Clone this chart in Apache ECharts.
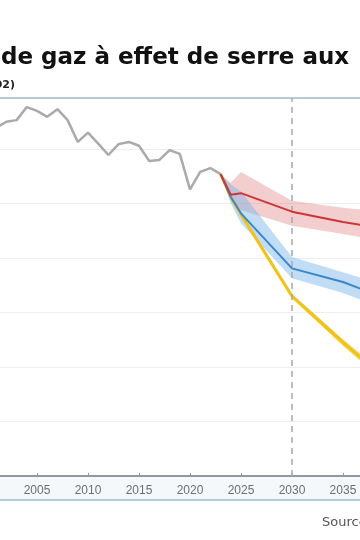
<!DOCTYPE html>
<html>
<head>
<meta charset="utf-8">
<script src="https://cdn.jsdelivr.net/npm/echarts@6/dist/echarts.min.js"></script>
<style>
html,body{margin:0;padding:0;background:#fff;}
#c{width:360px;height:540px;}
</style>
</head>
<body>
<div id="c"></div>
<script>
// ---- data (MtCO2e) ----
const histYears = [2001,2002,2003,2004,2005,2006,2007,2008,2009,2010,2011,2012,2013,2014,2015,2016,2017,2018,2019,2020,2021,2022,2023];
const histValues = [639,650,653,677,670,659,673,653,613,630,610,589,609,613,606,578,580,598,591,526,558,565,554];

const projYears = [2023,2024,2025,2030,2035,2040];
const redValues = [554,516,519,485,466,451];
const redLow    = [554,506,488,459,444,428];
const redHigh   = [554,538,558,505,492,483];

const blueValues = [554,512,482,381,356,320];
const blueLow    = [554,500,464,363,336,300];
const blueHigh   = [554,535,522,402,374,345];

const yellowYears  = [2023,2024,2025,2030,2035,2040];
const yellowValues = [554,512,480,330,245,165];
const yellowLow    = [554,512,479,326,239,158];
const yellowHigh   = [554,512,481,334,251,172];

const tickYears = [2005,2010,2015,2020,2025,2030,2035];
const markYear = 2030;

const titleText = 'de gaz à effet de serre aux';
const subtitleText = '(en MtCO2)';
const sourceText = 'Source :';

// ---- helpers ----
const pairs = (xs, ys) => xs.map((x, i) => [x, ys[i]]);

function band(name, xs, lo, hi, color, z) {
  return {
    name: name, type: 'custom', silent: true, z: z, clip: true,
    data: [[xs[0], lo[0]]],
    renderItem: function (params, api) {
      const pts = [];
      for (let i = 0; i < xs.length; i++) pts.push(api.coord([xs[i], hi[i]]));
      for (let i = xs.length - 1; i >= 0; i--) pts.push(api.coord([xs[i], lo[i]]));
      const cs = params.coordSys;
      return {
        type: 'polygon',
        shape: { points: pts },
        style: { fill: color },
        clipPath: { type: 'rect', shape: { x: cs.x, y: cs.y, width: cs.width, height: cs.height } }
      };
    }
  };
}

const chart = echarts.init(document.getElementById('c'), null, { renderer: 'canvas' });

const option = {
  animation: false,
  backgroundColor: '#ffffff',
  graphic: [
    { type: 'rect', shape: { x: 0, y: 477, width: 360, height: 23 }, style: { fill: '#f4f8fb' }, z: -1 },
    { type: 'line', shape: { x1: 0, y1: 500, x2: 360, y2: 500 }, style: { stroke: '#b3cde0', lineWidth: 2 } },
    { type: 'text', left: 1, top: 47, style: { text: titleText, font: 'bold 23px "DejaVu Sans"', fill: '#111' } },
    { type: 'text', x: 15, y: 80, style: { text: subtitleText, font: 'bold 11px "DejaVu Sans"', fill: '#222', align: 'right' } },
    { type: 'text', x: 322, y: 516, style: { text: sourceText, font: '13px "DejaVu Sans"', fill: '#555' } }
  ],
  grid: { left: 0, right: 0, top: 98, bottom: 64, outerBoundsMode: 'none', containLabel: false },
  xAxis: [
    {
      type: 'value', min: 2001.37, max: 2036.67,
      axisLine: { show: true, lineStyle: { color: '#8d9aa3', width: 2 } },
      axisTick: { show: true, inside: true, length: 3, customValues: tickYears, lineStyle: { color: '#8d9aa3' } },
      axisLabel: { show: true, customValues: tickYears, color: '#6e6e6e', fontSize: 12,
        formatter: v => String(v),
        fontFamily: '"Liberation Sans", sans-serif', margin: 9 },
      splitLine: { show: false }
    },
    {
      type: 'value', position: 'top', min: 2001.37, max: 2036.67,
      axisLine: { show: true, lineStyle: { color: '#a3bacb', width: 1.5 } },
      axisTick: { show: false }, axisLabel: { show: false }, splitLine: { show: false }
    }
  ],
  yAxis: {
    type: 'value', min: 0, max: 693.6, interval: 100,
    axisLine: { show: false }, axisTick: { show: false }, axisLabel: { show: false },
    splitLine: { show: true, lineStyle: { color: '#eeeeee', width: 1 } }
  },
  series: [
    band('yelBand', yellowYears, yellowLow, yellowHigh, 'rgba(242,196,30,0.7)', 1),
    band('redBand', projYears, redLow, redHigh, 'rgba(224,125,128,0.38)', 2),
    band('blueBand', projYears, blueLow, blueHigh, 'rgba(118,178,232,0.45)', 2),
    { name: 'hist', type: 'line', data: pairs(histYears, histValues), symbol: 'none',
      lineStyle: { color: '#aaaaaa', width: 2.5 }, z: 5,
      markLine: { silent: true, symbol: 'none', label: { show: false },
        lineStyle: { color: '#a8a8a8', type: [6, 5], width: 1.5 },
        data: [{ xAxis: markYear }] } },
    { name: 'yellow', type: 'line', data: pairs(yellowYears, yellowValues), symbol: 'none',
      lineStyle: { color: '#f0c21a', width: 3 }, z: 3 },
    { name: 'blue', type: 'line', data: pairs(projYears, blueValues), symbol: 'none',
      lineStyle: { color: '#3c86c6', width: 2 }, z: 5 },
    { name: 'red', type: 'line', data: pairs(projYears, redValues), symbol: 'none',
      lineStyle: { color: '#cc3538', width: 2 }, z: 6 }
  ]
};
chart.setOption(option);
</script>
</body>
</html>
